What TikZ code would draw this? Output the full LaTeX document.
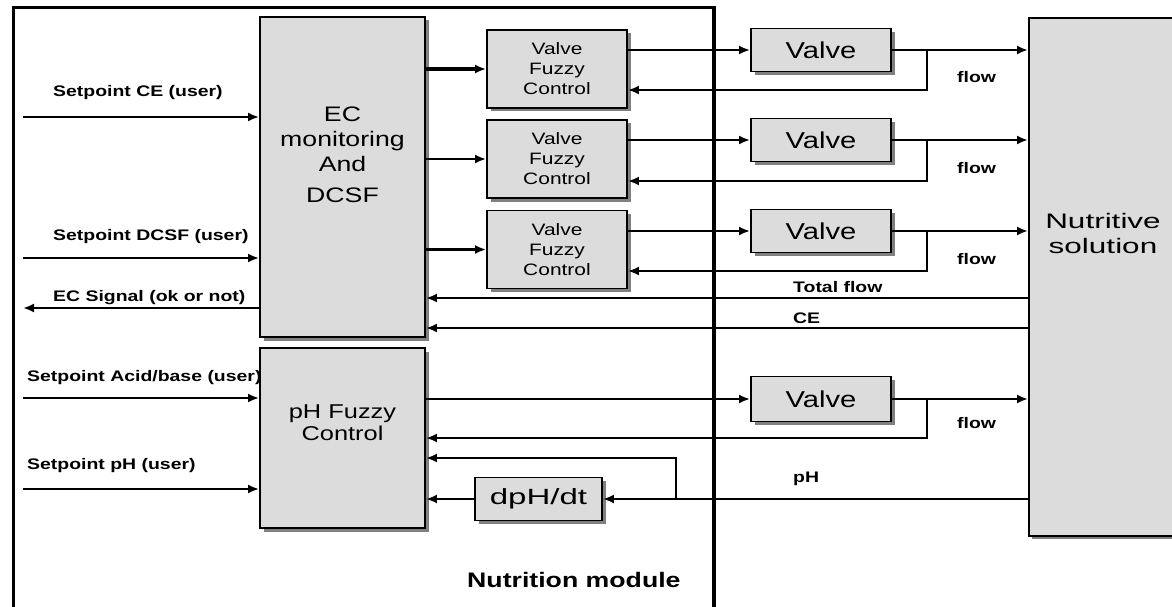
\documentclass[tikz,border=0pt]{standalone}
\usepackage{fontspec}
\setmainfont{Liberation Sans}[FakeStretch=1.27]
\newfontfamily\widefont{Liberation Sans}[FakeStretch=1.5]
\usetikzlibrary{arrows.meta,shadows}
\definecolor{boxfill}{HTML}{DCDCDC}
\definecolor{shadowgray}{HTML}{808080}
\begin{document}
\begin{tikzpicture}[x=1pt,y=-1pt,
  blk/.style={draw=black, line width=1.8pt, fill=boxfill,
    drop shadow={shadow xshift=3.5pt, shadow yshift=-3.5pt, fill=shadowgray, opacity=1},
    inner sep=0pt, align=center},
  conn/.style={line width=2.7pt},
  arr/.style={conn, -{Latex[length=11pt,width=9pt]}},
  lbl/.style={font=\fontsize{15.3}{18}\selectfont\bfseries, inner sep=0pt, anchor=base west},
  frame/.style={line width=3.8pt},
  vfcbox/.style={blk, minimum width=140pt, minimum height=78pt, font=\fontsize{16.5}{20}\selectfont},
  valvebox/.style={blk, minimum width=140pt, minimum height=43pt, font=\fontsize{23}{27}\selectfont}
]
\useasboundingbox (0,0) rectangle (1172,607);
\clip (0,0) rectangle (1172,607);

% frame of the nutrition module
\draw[frame] (13.5,612) -- (13.5,7.5) -- (714,7.5) -- (714,612);

% blocks
\node[blk, minimum width=165pt, minimum height=320pt] (ec) at (342.5,177) {};
\node[font=\fontsize{21}{25}\selectfont, align=center, anchor=north, inner sep=0pt] (ectext) at (342.5,107) {EC\\monitoring\\And\\[6pt]DCSF};
\node[blk, minimum width=165pt, minimum height=180pt] (ph) at (342.5,438) {};
\node[font=\fontsize{20}{22}\selectfont, align=center, inner sep=0pt] (phtext) at (342.5,423) {pH Fuzzy\\Control};

\node[vfcbox] (vfc1) at (557,69) {Valve\\Fuzzy\\Control};
\node[vfcbox] (vfc2) at (557,159) {Valve\\Fuzzy\\Control};
\node[vfcbox] (vfc3) at (557,249.5) {Valve\\Fuzzy\\Control};

\node[valvebox] (v1) at (821,50) {Valve};
\node[valvebox] (v2) at (821,140) {Valve};
\node[valvebox] (v3) at (821,231) {Valve};
\node[valvebox, minimum height=45pt] (v4) at (821,399) {Valve};

\node[blk, minimum width=127pt, minimum height=43pt, font=\widefont\fontsize{22}{26}\selectfont] (dph) at (538.5,499) {dpH/dt};

\node[blk, minimum width=160pt, minimum height=518pt, anchor=north west] (ns) at (1028,17) {};
\node[font=\widefont\fontsize{21}{25}\selectfont, align=center, inner sep=0pt] (nstext) at (1103,233) {Nutritive\\solution};

% EC -> valve fuzzy controls
\draw[arr, line width=3.3pt] (ec.east |- vfc1.west) -- (vfc1.west);
\draw[arr] (ec.east |- vfc2.west) -- (vfc2.west);
\draw[arr] (ec.east |- vfc3.west) -- (vfc3.west);

% valve fuzzy controls -> valves
\draw[arr] (vfc1.east |- v1.west) -- (v1.west);
\draw[arr] (vfc2.east |- v2.west) -- (v2.west);
\draw[arr] (vfc3.east |- v3.west) -- (v3.west);

% valves -> nutritive solution
\draw[arr] (v1.east) -- (ns.west |- v1.east);
\draw[arr] (v2.east) -- (ns.west |- v2.east);
\draw[arr] (v3.east) -- (ns.west |- v3.east);
\draw[arr] (v4.east) -- (ns.west |- v4.east);

% flow feedbacks
\coordinate (b1) at (v1.east -| 927,0);
\coordinate (b2) at (v2.east -| 927,0);
\coordinate (b3) at (v3.east -| 927,0);
\coordinate (b4) at (v4.east -| 927,0);
\draw[arr] (b1) |- (vfc1.east |- 0,90);
\draw[arr] (b2) |- (vfc2.east |- 0,181);
\draw[arr] (b3) |- (vfc3.east |- 0,271);
\draw[arr] (b4) |- (ph.east |- 0,438);

% total flow and CE
\draw[arr] (ns.west |- 0,298) -- (ec.east |- 0,298);
\draw[arr] (ns.west |- 0,328) -- (ec.east |- 0,328);

% pH path
\coordinate (b5) at (676,499);
\draw[arr] (ns.west |- dph.east) -- (dph.east);
\draw[arr] (b5) |- (ph.east |- 0,458);
\draw[arr] (dph.west) -- (ph.east |- dph.west);

% pH fuzzy control -> valve
\draw[arr] (ph.east |- v4.west) -- (v4.west);

% user inputs and output
\coordinate (sce) at (23,117);
\coordinate (sdcsf) at (23,258);
\coordinate (ecsig) at (23,308);
\coordinate (sab) at (23,398);
\coordinate (sph) at (23,489);
\draw[arr] (sce) -- (ec.west |- sce);
\draw[arr] (sdcsf) -- (ec.west |- sdcsf);
\draw[arr] (ec.west |- ecsig) -- (ecsig);
\draw[arr] (sab) -- (ph.west |- sab);
\draw[arr] (sph) -- (ph.west |- sph);

% labels
\node[lbl] (lsce) at (53,97) {Setpoint CE (user)};
\node[lbl] (lsdcsf) at (53,240) {Setpoint DCSF (user)};
\node[lbl] (lecsig) at (53,301) {EC Signal (ok or not)};
\node[lbl] (lsab) at (27,381) {Setpoint Acid/base (user)};
\node[lbl] (lsph) at (27,469) {Setpoint pH (user)};

\node[lbl] (f1) at (957,83) {flow};
\node[lbl] (f2) at (957,173) {flow};
\node[lbl] (f3) at (957,264) {flow};
\node[lbl] (f4) at (957,428) {flow};
\node[lbl] (ltf) at (793,292) {Total flow};
\node[lbl] (lce) at (793,323) {CE};
\node[lbl] (lph) at (793,482) {pH};

\node[lbl, font=\fontsize{21}{25}\selectfont\bfseries] (lnm) at (467,587) {Nutrition module};
\end{tikzpicture}
\end{document}
